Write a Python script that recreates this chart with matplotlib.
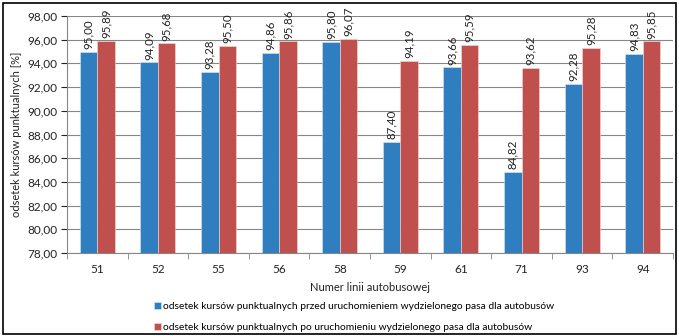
import matplotlib.pyplot as plt
import numpy as np

plt.rcParams['font.family'] = ['Lato', 'DejaVu Sans']

linie = ['51', '52', '55', '56', '58', '59', '61', '71', '93', '94']
przed = [95.00, 94.09, 93.28, 94.86, 95.80, 87.40, 93.66, 84.82, 92.28, 94.83]
po = [95.89, 95.68, 95.50, 95.86, 96.07, 94.19, 95.59, 93.62, 95.28, 95.85]

niebieski = '#2E7EC0'
czerwony = '#C0504D'

fig = plt.figure(figsize=(6.79, 3.36), dpi=100)
ax = fig.add_axes([67 / 679, 1 - 253 / 336, (673 - 67) / 679, (253 - 16) / 336])

x = np.arange(len(linie))
w = 0.29
b1 = ax.bar(x - w / 2, przed, w, color=niebieski, edgecolor='#DCE6F2', linewidth=0.4,
            label='odsetek kursów punktualnych przed uruchomieniem wydzielonego pasa dla autobusów')
b2 = ax.bar(x + w / 2, po, w, color=czerwony, edgecolor='#F2DCDB', linewidth=0.4,
            label='odsetek kursów punktualnych po uruchomieniu wydzielonego pasa dla autobusów')

# etykiety wartości pionowo nad słupkami
for bars, vals in ((b1, przed), (b2, po)):
    for r, v in zip(bars, vals):
        ax.annotate(f'{v:.2f}'.replace('.', ','), (r.get_x() + r.get_width() / 2, v),
                    xytext=(0, 2), textcoords='offset points', rotation=90,
                    ha='center', va='bottom', fontsize=8.3, color='#222222')

ax.set_ylim(78, 98)
ax.set_xlim(-0.5, len(linie) - 0.5)
ax.set_yticks(np.arange(78, 98.1, 2))
ax.set_yticklabels([f'{t:.2f}'.replace('.', ',') for t in np.arange(78, 98.1, 2)])
ax.set_xticks(x)
ax.set_xticklabels(linie)
ax.set_xticks(np.arange(-0.5, len(linie), 1), minor=True)
ax.tick_params(axis='x', which='major', length=0, pad=8)
ax.tick_params(axis='x', which='minor', length=4, color='#868686')
ax.tick_params(axis='y', length=4, color='#868686', pad=3)
ax.tick_params(labelsize=8.5, colors='#222222')
ax.grid(axis='y', color='#868686', linewidth=0.8)
ax.set_axisbelow(True)
for s in ('top', 'right'):
    ax.spines[s].set_visible(False)
for s in ('left', 'bottom'):
    ax.spines[s].set_color('#868686')

ax.set_xlabel('Numer linii autobusowej', fontsize=8, color='#222222', labelpad=5)
ax.set_ylabel('odsetek kursów punktualnych [%]', fontsize=8, color='#222222', labelpad=4)

fig.legend(handles=[b1, b2], loc='upper left', bbox_to_anchor=(150 / 679, 1 - 298 / 336),
           frameon=False, fontsize=7.4, handlelength=0.7, handleheight=0.7,
           handletextpad=0.2, labelspacing=1.1, borderaxespad=0)

# ramka wokół całego wykresu
fig.patches.append(plt.Rectangle((0.005, 0.005), 0.99, 0.985, transform=fig.transFigure,
                                 fill=False, edgecolor='black', linewidth=1.2))

plt.savefig('out.png', dpi=100)
